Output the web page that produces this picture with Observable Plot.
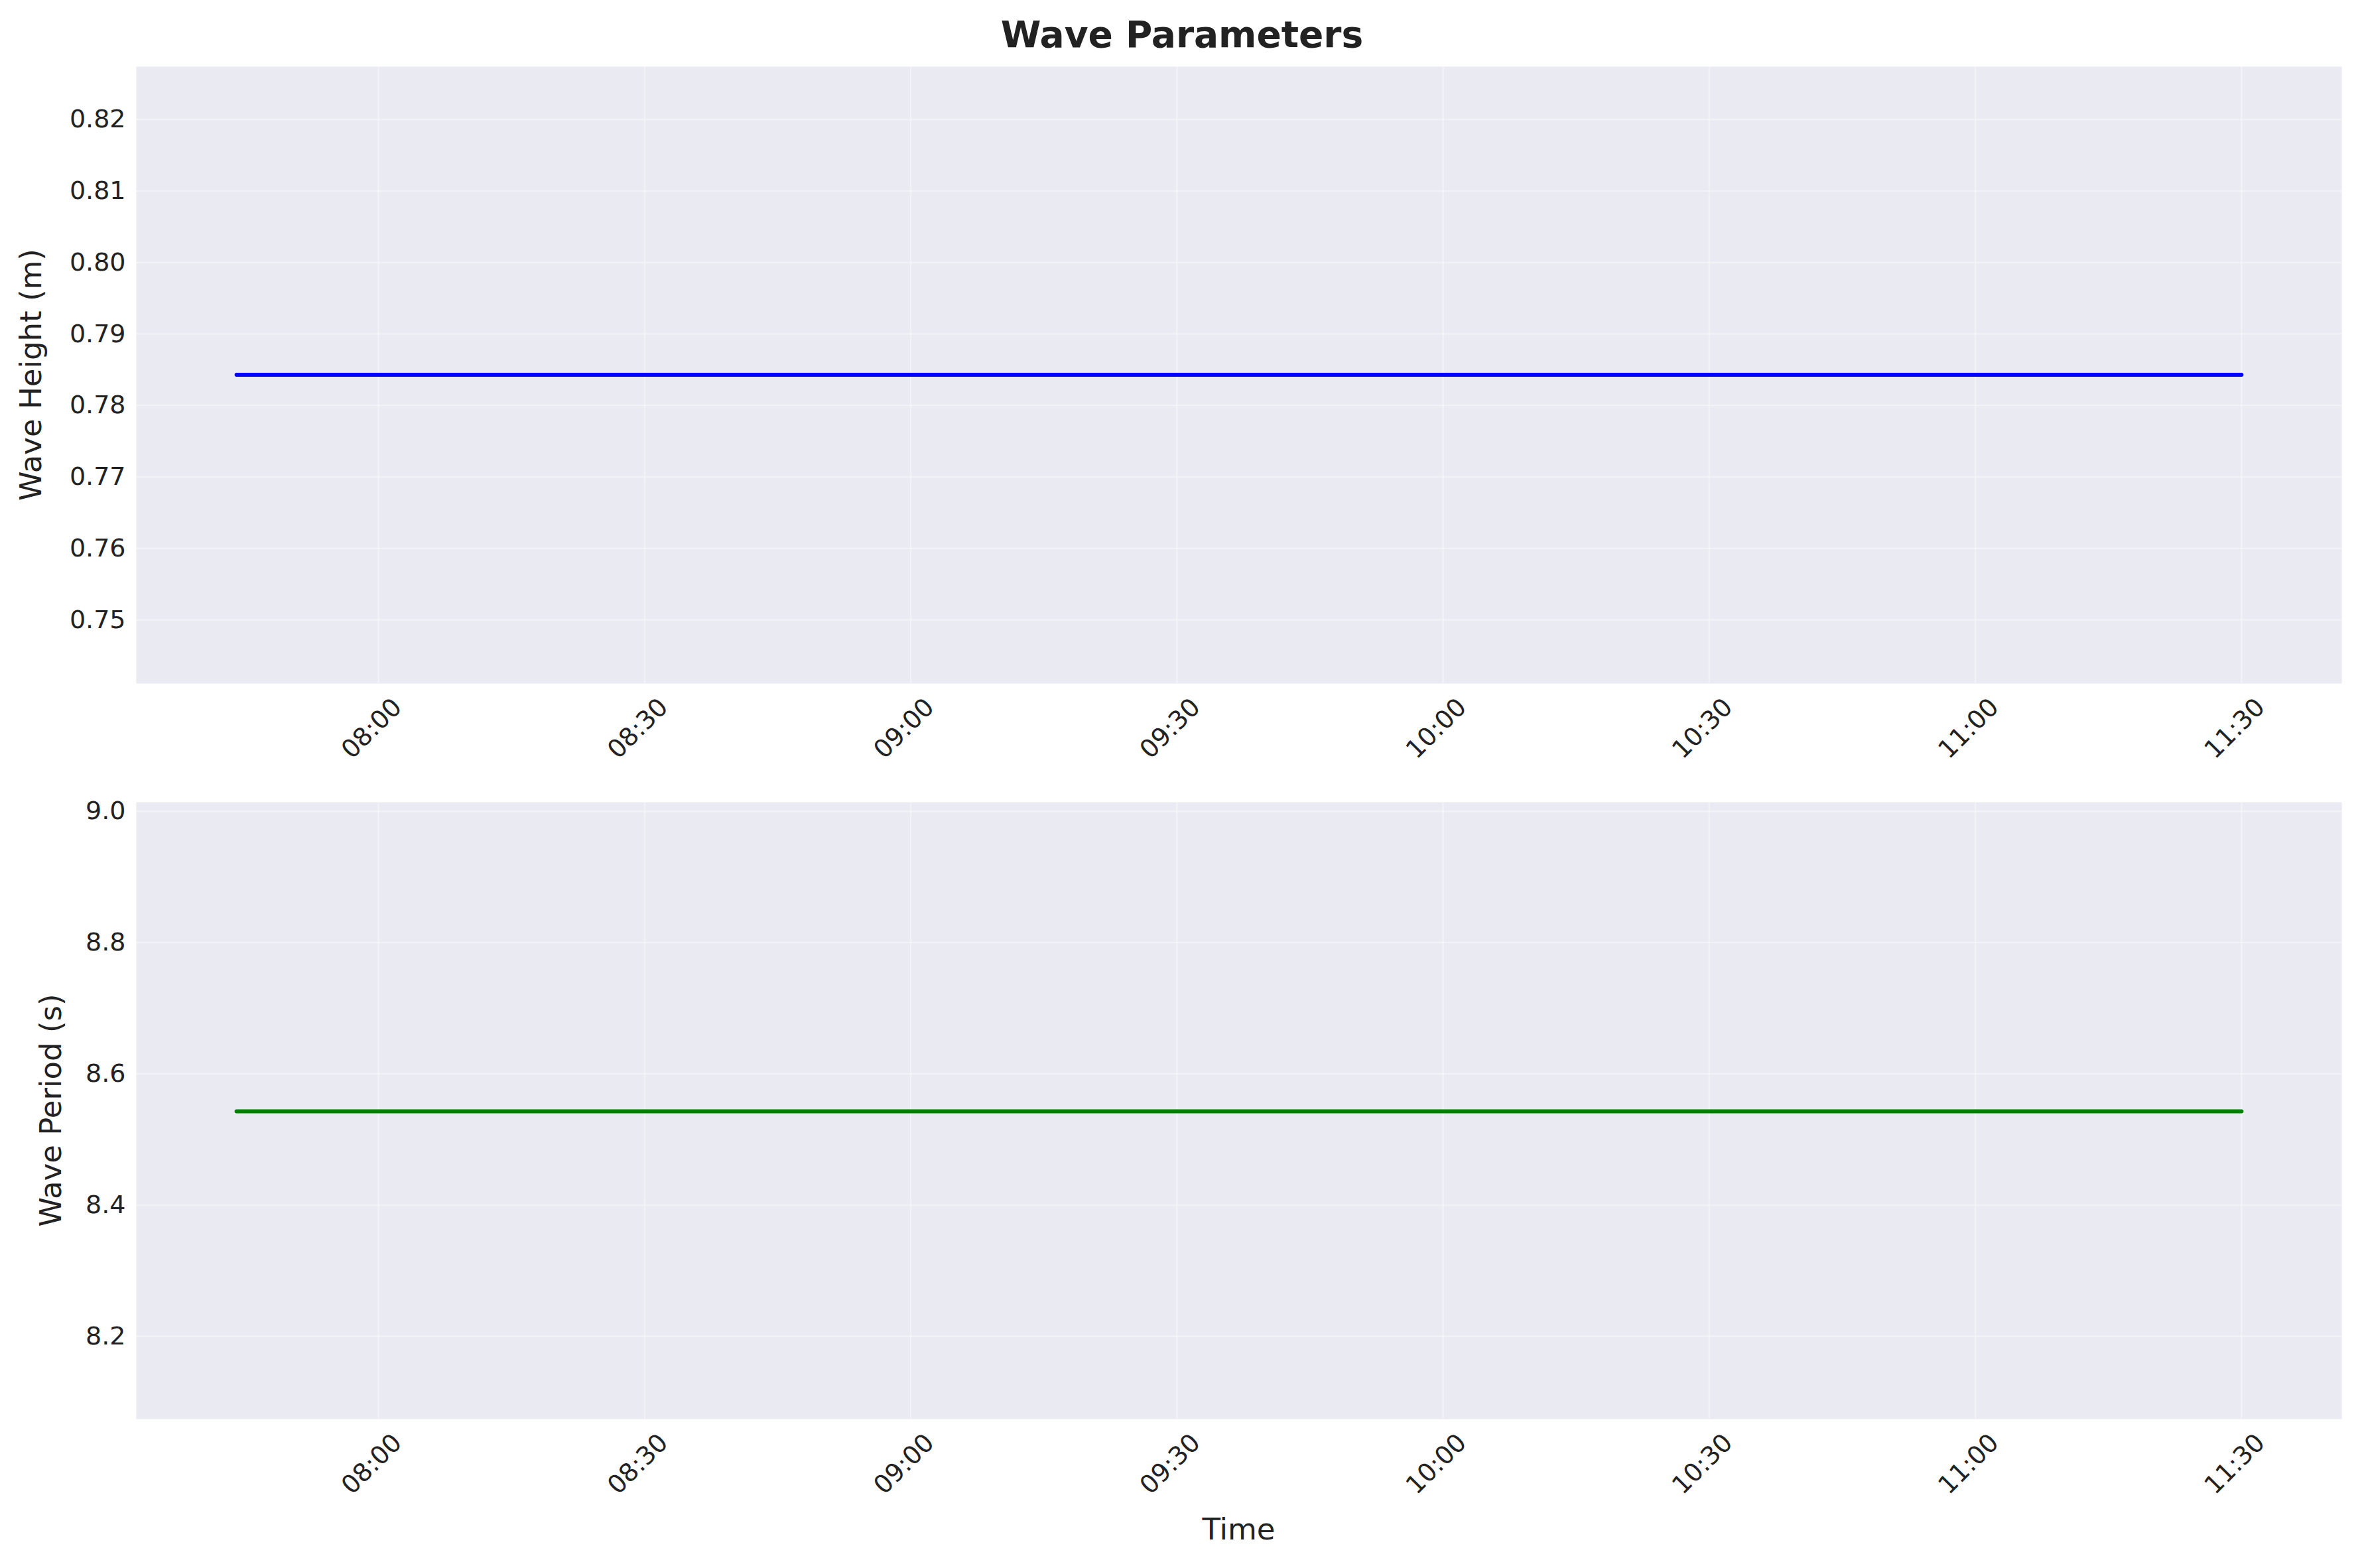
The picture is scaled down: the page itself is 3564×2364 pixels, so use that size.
<!DOCTYPE html>
<html><head><meta charset="utf-8">
<script src="https://cdn.jsdelivr.net/npm/d3@7"></script>
<script src="https://cdn.jsdelivr.net/npm/@observablehq/plot@0.6"></script>
<style>
body{margin:0;background:#fff;font-family:"DejaVu Sans",sans-serif;}
#wrap{position:relative;width:3564px;height:2364px;}
.abs{position:absolute;left:0;}
</style></head><body>
<div id="wrap">
  <div class="abs" style="top:20px;left:100px;text-align:center;font-size:55px;font-weight:bold;color:#222;width:3364px">Wave Parameters</div>
  <div id="p1" class="abs" style="top:80px"></div>
  <div id="p2" class="abs" style="top:1189px"></div>
</div>
<script>
const times = ["07:44","08:00","08:30","09:00","09:30","10:00","10:30","11:00","11:30"];
const waveHeight = [0.7843,0.7843,0.7843,0.7843,0.7843,0.7843,0.7843,0.7843,0.7843];
const wavePeriod = [8.543,8.543,8.543,8.543,8.543,8.543,8.543,8.543,8.543];
const tickLabels = ["08:00","08:30","09:00","09:30","10:00","10:30","11:00","11:30"];
const hm = s => new Date(`2024-01-01T${s}:00Z`);
const xDomain = [new Date(hm("07:44") - 11.3*60000), new Date(+hm("11:30") + 11.3*60000)];
const xTicks = tickLabels.map(hm);
const data = times.map((t,i)=>({t:hm(t),h:waveHeight[i],p:wavePeriod[i]}));

function panel(el, key, color, yDomain, yTicks, yFmt, ylabel, mb, xlabel, ylx){
  const plot = Plot.plot({
    width:3564, height:20+930+mb,
    marginLeft:205, marginRight:34, marginTop:20, marginBottom:mb,
    style:{fontFamily:"DejaVu Sans, sans-serif", fontSize:"38px", color:"#222", background:"transparent"},
    x:{type:"utc", domain:xDomain},
    y:{domain:yDomain},
    marks:[
      Plot.frame({fill:"#eaeaf2"}),
      Plot.gridX(xTicks,{stroke:"#fff",strokeOpacity:0.35,strokeWidth:2.5}),
      Plot.gridY(yTicks,{stroke:"#fff",strokeOpacity:0.35,strokeWidth:2.5}),
      Plot.axisX(xTicks,{tickSize:0,tickPadding:0,tickFormat:d3.utcFormat("%H:%M"),tickRotate:-45,textAnchor:"middle",lineAnchor:"middle",dy:68,dx:-10,label:null}),
      Plot.axisY(yTicks,{tickSize:0,tickPadding:16,tickFormat:yFmt,label:null}),
      Plot.lineY(data,{x:"t",y:key,stroke:color,strokeWidth:6})
    ]
  });
  el.appendChild(plot);
  const svg = d3.select(plot);
  svg.append("text").attr("transform",`translate(${ylx},${20+465}) rotate(-90)`).attr("text-anchor","middle")
    .attr("dominant-baseline","middle").style("font-size","45px").attr("fill","#222").text(ylabel);
  if(xlabel) svg.append("text").attr("x",205+3325/2).attr("y",2309-1189).attr("text-anchor","middle")
    .attr("dominant-baseline","middle").style("font-size","45px").attr("fill","#222").text(xlabel);
}
panel(document.getElementById("p1"),"h","#0000ff",[0.7411,0.8274],[0.75,0.76,0.77,0.78,0.79,0.80,0.81,0.82],d3.format(".2f"),"Wave Height (m)",159,null,50);
panel(document.getElementById("p2"),"p","#008000",[8.074,9.0138],[8.2,8.4,8.6,8.8,9.0],d3.format(".1f"),"Wave Period (s)",225,"Time",80);
</script>
</body></html>
